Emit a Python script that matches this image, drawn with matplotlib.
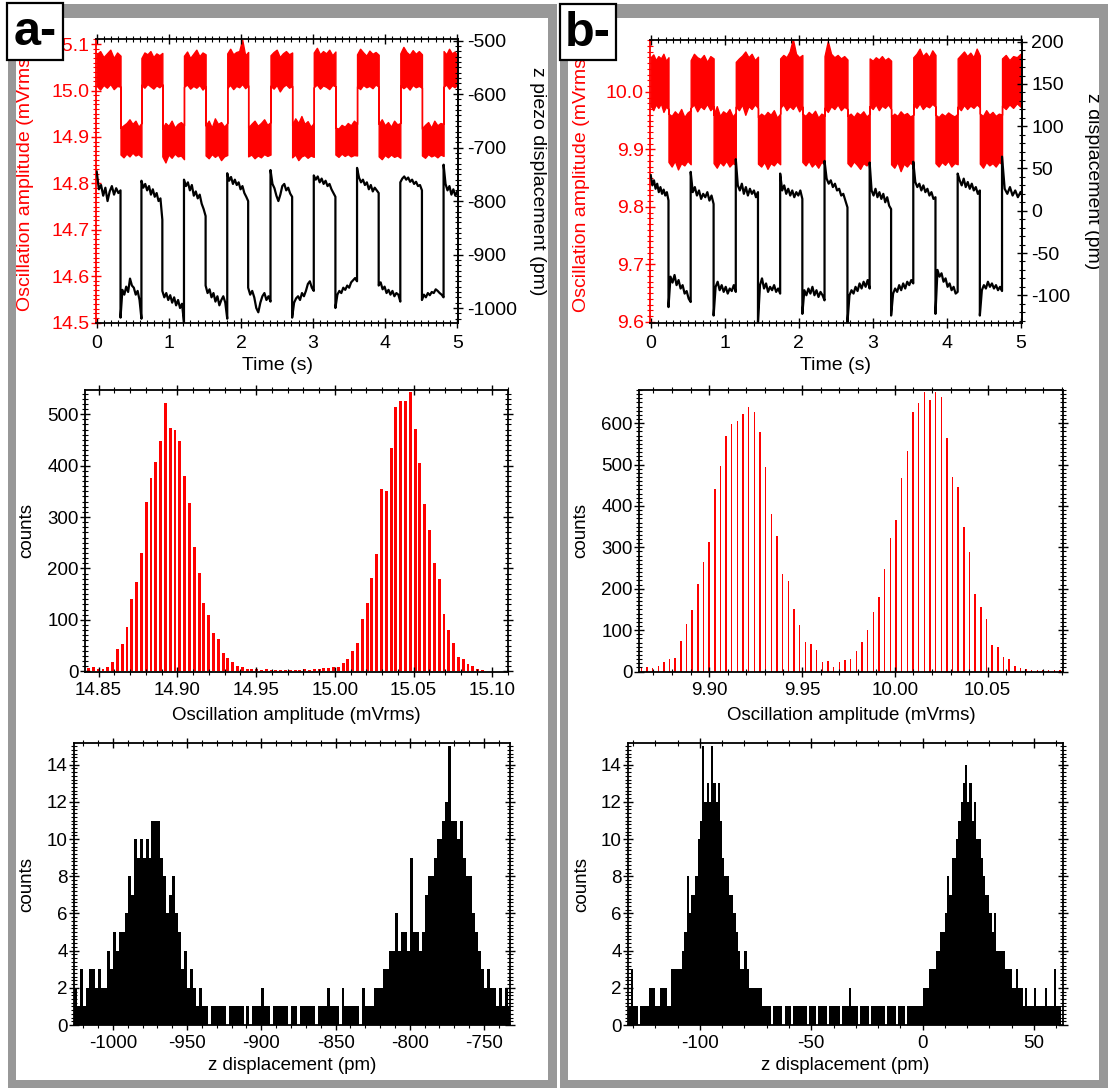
import numpy as np
import matplotlib.pyplot as plt
from matplotlib.patches import Rectangle
from matplotlib.ticker import MultipleLocator

plt.rcParams['font.family'] = ['Liberation Sans', 'DejaVu Sans']
plt.rcParams['axes.unicode_minus'] = False

W, H = 1108, 1088

# ---------------- panel a, time trace ----------------
# switching times (s); segments alternate high / low, first one high
edges_a = [0, 0.33, 0.62, 0.91, 1.21, 1.51, 1.81, 2.10, 2.41, 2.71, 3.01,
           3.31, 3.61, 3.91, 4.21, 4.51, 4.81, 5.0]
# upper / lower envelope of the red amplitude band (mVrms), per segment
red_top_a = [
    [15.078, 15.085, 15.072, 15.080, 15.088, 15.070, 15.082, 15.075],
    [14.920, 14.925, 14.930, 14.938, 14.928, 14.935, 14.922, 14.930],
    [15.070, 15.082, 15.078, 15.085, 15.072, 15.080, 15.076, 15.081],
    [14.918, 14.930, 14.924, 14.935, 14.920, 14.928, 14.932, 14.925],
    [15.075, 15.084, 15.070, 15.079, 15.088, 15.074, 15.082, 15.078],
    [14.925, 14.935, 14.920, 14.940, 14.928, 14.932, 14.922, 14.930],
    [15.080, 15.090, 15.078, 15.083, 15.085, 15.110, 15.076, 15.083],
    [14.920, 14.928, 14.935, 14.924, 14.930, 14.938, 14.926, 14.932],
    [15.076, 15.083, 15.088, 15.072, 15.080, 15.085, 15.078, 15.082],
    [14.925, 14.940, 14.930, 14.945, 14.928, 14.934, 14.922, 14.930],
    [15.082, 15.092, 15.078, 15.085, 15.080, 15.088, 15.076, 15.084],
    [14.920, 14.918, 14.926, 14.922, 14.930, 14.925, 14.935, 14.928],
    [15.078, 15.090, 15.082, 15.075, 15.086, 15.079, 15.083, 15.077],
    [14.928, 14.938, 14.925, 14.932, 14.922, 14.935, 14.927, 14.930],
    [15.080, 15.094, 15.083, 15.077, 15.087, 15.079, 15.085, 15.078],
    [14.918, 14.926, 14.932, 14.920, 14.935, 14.925, 14.930, 14.928],
    [15.085, 15.078, 15.090, 15.080, 15.084, 15.076],
]
red_bot_a = [
    [15.010, 15.002, 15.012, 15.006, 15.014, 15.003, 15.010, 15.008],
    [14.862, 14.856, 14.864, 14.858, 14.866, 14.860, 14.863, 14.857],
    [15.012, 15.006, 15.014, 15.009, 15.004, 15.011, 15.007, 15.013],
    [14.858, 14.845, 14.862, 14.855, 14.864, 14.858, 14.860, 14.852],
    [15.008, 15.013, 15.004, 15.010, 15.006, 15.012, 15.002, 15.009],
    [14.860, 14.854, 14.863, 14.857, 14.862, 14.850, 14.858, 14.861],
    [15.006, 15.012, 15.003, 15.010, 15.007, 15.014, 15.005, 15.011],
    [14.858, 14.862, 14.854, 14.860, 14.856, 14.863, 14.859, 14.862],
    [15.010, 15.004, 15.012, 14.998, 15.008, 15.013, 15.006, 15.010],
    [14.856, 14.862, 14.850, 14.858, 14.861, 14.855, 14.860, 14.857],
    [15.007, 15.013, 15.004, 15.011, 15.008, 15.003, 15.012, 15.009],
    [14.862, 14.857, 14.864, 14.859, 14.863, 14.858, 14.861, 14.860],
    [15.009, 15.003, 15.012, 15.007, 15.010, 15.005, 15.013, 15.008],
    [14.858, 14.852, 14.861, 14.856, 14.862, 14.857, 14.860, 14.855],
    [15.011, 15.005, 15.010, 15.002, 15.012, 15.007, 15.010, 15.006],
    [14.860, 14.855, 14.863, 14.858, 14.861, 14.856, 14.862, 14.859],
    [15.008, 15.013, 15.004, 15.011, 15.007, 15.012],
]
# z piezo displacement (pm), per segment
z_a = [
    [-745, -778, -770, -790, -775, -800, -782, -772, -788, -776, -785, -780],
    [-1018, -966, -975, -960, -970, -945, -958, -962, -975, -968, -985, -1020],
    [-762, -775, -768, -780, -772, -788, -778, -792, -785, -800, -795, -835],
    [-968, -980, -972, -985, -976, -990, -980, -995, -985, -1000, -992, -1027],
    [-760, -772, -765, -780, -770, -790, -782, -795, -788, -805, -815, -828],
    [-958, -972, -965, -980, -972, -988, -978, -995, -985, -978, -990, -1020],
    [-748, -762, -755, -768, -760, -770, -765, -778, -772, -785, -792, -800],
    [-962, -975, -968, -980, -1000, -1008, -990, -978, -972, -985, -978, -988],
    [-742, -768, -776, -790, -800, -788, -772, -768, -780, -775, -786, -792],
    [-1018, -990, -982, -978, -985, -972, -978, -968, -955, -950, -962, -968],
    [-752, -760, -754, -765, -758, -768, -762, -772, -768, -778, -785, -792],
    [-1000, -975, -968, -972, -962, -966, -958, -962, -952, -948, -944, -950],
    [-738, -756, -765, -760, -770, -765, -778, -770, -782, -775, -780, -785],
    [-958, -952, -965, -960, -972, -966, -975, -968, -978, -972, -975, -988],
    [-765, -758, -754, -760, -756, -764, -760, -768, -764, -772, -770, -780],
    [-985, -975, -980, -972, -976, -970, -972, -965, -968, -972, -975, -980],
    [-732, -768, -780, -772, -788, -778, -790, -782],
]

# ---------------- panel b, time trace ----------------
edges_b = [0, 0.24, 0.54, 0.85, 1.15, 1.45, 1.75, 2.05, 2.35, 2.66, 2.96,
           3.25, 3.55, 3.85, 4.15, 4.45, 4.75, 5.0]
red_top_b = [
    [10.060, 10.065, 10.055, 10.062, 10.058, 10.066, 10.054, 10.060],
    [9.962, 9.958, 9.966, 9.960, 9.970, 9.956, 9.964, 9.968],
    [10.055, 10.066, 10.060, 10.057, 10.064, 10.052, 10.062, 10.058],
    [9.960, 9.975, 9.958, 9.966, 9.962, 9.970, 9.957, 9.964],
    [10.052, 10.058, 10.063, 10.070, 10.060, 10.066, 10.055, 10.061],
    [9.956, 9.962, 9.958, 9.965, 9.960, 9.968, 9.955, 9.962],
    [10.058, 10.064, 10.060, 10.070, 10.092, 10.066, 10.060, 10.064],
    [9.962, 9.958, 9.965, 9.960, 9.967, 9.955, 9.962, 9.959],
    [10.062, 10.088, 10.066, 10.060, 10.064, 10.058, 10.062, 10.056],
    [9.958, 9.962, 9.956, 9.964, 9.960, 9.966, 9.957, 9.962],
    [10.058, 10.054, 10.060, 10.056, 10.062, 10.055, 10.059, 10.054],
    [9.956, 9.962, 9.958, 9.966, 9.960, 9.963, 9.957, 9.960],
    [10.060, 10.066, 10.075, 10.062, 10.068, 10.060, 10.072, 10.064],
    [9.960, 9.956, 9.962, 9.958, 9.964, 9.960, 9.957, 9.962],
    [10.058, 10.064, 10.070, 10.062, 10.068, 10.060, 10.075, 10.063],
    [9.962, 9.958, 9.968, 9.960, 9.965, 9.958, 9.962, 9.960],
    [10.058, 10.064, 10.055, 10.062, 10.060, 10.066],
]
red_bot_b = [
    [9.975, 9.968, 9.978, 9.972, 9.980, 9.965, 9.974, 9.970],
    [9.878, 9.870, 9.880, 9.865, 9.876, 9.872, 9.880, 9.874],
    [9.972, 9.978, 9.966, 9.975, 9.970, 9.979, 9.968, 9.974],
    [9.876, 9.868, 9.878, 9.872, 9.880, 9.870, 9.876, 9.873],
    [9.974, 9.968, 9.978, 9.960, 9.975, 9.970, 9.978, 9.972],
    [9.875, 9.870, 9.878, 9.866, 9.876, 9.872, 9.879, 9.874],
    [9.972, 9.978, 9.968, 9.975, 9.970, 9.978, 9.966, 9.974],
    [9.878, 9.872, 9.880, 9.870, 9.876, 9.868, 9.878, 9.874],
    [9.972, 9.965, 9.975, 9.970, 9.978, 9.968, 9.974, 9.970],
    [9.876, 9.870, 9.879, 9.873, 9.866, 9.876, 9.872, 9.878],
    [9.975, 9.970, 9.978, 9.968, 9.976, 9.972, 9.978, 9.970],
    [9.874, 9.868, 9.878, 9.862, 9.875, 9.870, 9.877, 9.872],
    [9.978, 9.972, 9.980, 9.970, 9.976, 9.973, 9.979, 9.974],
    [9.876, 9.870, 9.878, 9.873, 9.880, 9.870, 9.876, 9.874],
    [9.974, 9.968, 9.977, 9.970, 9.976, 9.972, 9.978, 9.973],
    [9.875, 9.868, 9.878, 9.872, 9.876, 9.870, 9.878, 9.874],
    [9.976, 9.970, 9.978, 9.972, 9.980, 9.974],
]
z_b = [
    [42, 30, 36, 26, 32, 22, 28, 20, 25, 18, 22, 12],
    [-114, -78, -85, -76, -88, -82, -92, -88, -98, -95, -104, -108],
    [46, 22, 28, 18, 24, 14, 20, 16, 22, 12, 18, 8],
    [-124, -90, -84, -94, -88, -96, -90, -98, -92, -95, -88, -96],
    [61, 30, 24, 32, 20, 28, 18, 26, 20, 24, 16, 22],
    [-132, -88, -80, -92, -86, -96, -90, -94, -88, -96, -92, -98],
    [44, 24, 30, 20, 26, 18, 24, 16, 22, 18, 24, 14],
    [-122, -94, -100, -92, -98, -90, -100, -94, -102, -96, -100, -106],
    [59, 38, 32, 36, 28, 32, 24, 26, 18, 20, 12, 4],
    [-132, -100, -94, -98, -90, -95, -86, -92, -84, -90, -82, -92],
    [57, 24, 18, 26, 16, 22, 14, 20, 10, 16, 6, 2],
    [-124, -98, -92, -96, -88, -94, -86, -92, -84, -88, -82, -86],
    [58, 34, 28, 32, 24, 30, 22, 26, 18, 22, 14, 16],
    [-122, -70, -78, -74, -84, -80, -90, -86, -94, -90, -98, -96],
    [44, 36, 30, 38, 28, 34, 26, 32, 24, 28, 20, 24],
    [-124, -94, -88, -92, -84, -90, -86, -92, -88, -94, -90, -95],
    [64, 26, 20, 28, 18, 24, 16, 22],
]

# ---------------- amplitude histograms ----------------
amp_start_a, amp_step = 14.8437, 0.003049
amp_counts_a = [6, 8, 5, 5, 9, 18, 44, 53, 86, 140, 173, 230, 329, 375, 407,
                447, 521, 473, 469, 448, 379, 328, 242, 192, 132, 110, 75, 62,
                36, 25, 18, 10, 9, 5, 4, 4, 3, 4, 3, 3, 3, 2, 3, 3, 3, 4, 3,
                5, 4, 6, 6, 8, 9, 16, 24, 40, 55, 101, 132, 181, 229, 354,
                351, 434, 514, 525, 525, 544, 472, 406, 325, 275, 210, 179,
                111, 81, 55, 27, 23, 14, 10, 5, 2, 1, 1, 1, 1, 1]
amp_start_b = 9.8634
amp_counts_b = [8, 12, 8, 14, 22, 30, 34, 74, 114, 148, 212, 265, 313, 441,
                496, 569, 597, 604, 622, 638, 626, 578, 493, 381, 328, 235,
                218, 151, 112, 71, 67, 51, 24, 26, 12, 23, 27, 31, 50, 71,
                101, 143, 180, 248, 323, 365, 467, 532, 626, 649, 676, 656,
                676, 662, 565, 470, 446, 350, 288, 188, 157, 128, 63, 59, 35,
                31, 13, 8, 7, 4, 3, 3, 4, 4, 3]

# ---------------- z histograms ----------------
z_edge0_a, z_bin_a = -1026, 2
z_counts_a = [2, 1, 3, 1, 2, 3, 3, 2, 3, 2, 2, 4, 3,
              5, 4, 5, 5, 6,
              8, 7, 10, 9, 10,
              9, 10, 9, 11, 11,
              11, 9, 8, 6, 7,
              8, 6, 5, 3, 4,
              2, 3, 2, 1, 2,
              1, 1, 0, 1, 1,
              1, 1, 1, 0, 1,
              1, 1, 1, 1, 0,
              1, 0, 1, 1, 1,
              2, 1, 1, 0, 1,
              1, 1, 1, 1, 0,
              1, 1, 0, 1, 1,
              1, 1, 1, 0, 1,
              1, 1, 2, 1, 1,
              1, 0, 2, 1, 1,
              1, 1, 1, 0, 2,
              1, 1, 1, 2, 2,
              2, 3, 3, 4, 4,
              6, 4, 5, 5, 4,
              9, 5, 5, 4, 5,
              7, 8, 8, 9, 10,
              10, 11, 12, 15, 11,
              11, 10, 11, 9, 8,
              8, 6, 5, 4, 3,
              2, 3, 2, 2, 1,
              2, 1, 2, 1]
z_edge0_b, z_bin_b = -133, 1
z_counts_b = [1, 1, 3,
              1, 1, 0, 1, 1, 1, 1, 2, 2, 2,
              1, 1, 2, 2, 2, 1, 1, 3, 3, 3,
              3, 3, 4, 5, 8, 6, 7, 7, 8, 10,
              11, 15, 12, 13, 12, 15, 13, 12, 13, 11,
              9, 8, 8, 7, 7, 6, 5, 4, 3, 3,
              4, 3, 2, 2, 2, 2, 2, 2, 1, 1,
              1, 1, 0, 1, 1, 1, 1, 0, 1, 1,
              1, 0, 1, 1, 1, 1, 1, 1, 0, 1,
              1, 1, 0, 1, 1, 1, 1, 0, 1, 1,
              1, 1, 1, 0, 1, 1, 1, 2, 1, 1,
              1, 0, 1, 1, 1, 1, 0, 1, 1, 1,
              1, 1, 1, 0, 1, 1, 1, 1, 0, 1,
              1, 1, 0, 1, 1, 1, 1, 1, 1, 1,
              2, 2, 2, 3, 3, 3, 4, 4, 5, 5,
              6, 8, 7, 9, 9, 10, 11, 12, 13, 14,
              12, 13, 11, 12, 10, 10, 9, 8, 7, 7,
              6, 5, 6, 4, 4, 4, 4, 3, 3, 3,
              2, 2, 3, 2, 2, 1, 2, 1, 1, 1,
              2, 1, 1, 1, 1, 2, 1, 1, 1, 3,
              1, 1]

RED = '#ff0000'
GRAY = '#989898'

fig = plt.figure(figsize=(W / 100, H / 100), dpi=100)


def add_ax(x0, y0, x1, y1):
    return fig.add_axes([x0 / W, 1 - y1 / H, (x1 - x0) / W, (y1 - y0) / H])


def to_axes(ax, px, py):
    b = ax.get_position()
    return (px / W - b.x0) / b.width, ((1 - py / H) - b.y0) / b.height


def join(edges, segs):
    xs = [np.linspace(edges[k], edges[k + 1], len(v)) for k, v in enumerate(segs)]
    return np.concatenate(xs), np.concatenate([np.asarray(v, float) for v in segs])


def ticks(ax, axis, major, minor, **kw):
    a = ax.xaxis if axis == 'x' else ax.yaxis
    a.set_major_locator(MultipleLocator(major))
    a.set_minor_locator(MultipleLocator(minor))
    ax.tick_params(axis=axis, which='major', direction='inout', length=7, width=1.0, **kw)
    ax.tick_params(axis=axis, which='minor', direction='inout', length=4.5, width=0.8, **kw)


def time_panel(box, edges, rtop, rbot, z, xlim, ylim, y2lim, y2step, y2minor,
               y2label, lab_left_x, lab_right_x):
    ax = add_ax(*box)
    ax2 = ax.twinx()
    t, top = join(edges, rtop)
    _, bot = join(edges, rbot)
    ax.fill_between(t, bot, top, color=RED, lw=1.0)
    tz, zz = join(edges, z)
    ax2.plot(tz, zz, color='k', lw=1.6)
    ax.set_xlim(*xlim)
    ax.set_ylim(*ylim)
    ax2.set_ylim(*y2lim)
    for s in ax.spines.values():
        s.set_linewidth(1.3)
    ax.spines['left'].set_color(RED)
    for s in ['left', 'top', 'bottom']:
        ax2.spines[s].set_visible(False)
    ax2.spines['right'].set_linewidth(1.3)
    ticks(ax, 'x', 1, 0.1, top=True, bottom=True, labelsize=14, pad=5)
    ticks(ax, 'y', 0.1, 0.01, left=True, right=False, colors=RED, labelsize=14, pad=1)
    ticks(ax2, 'y', y2step, y2minor, right=True, left=False, labelsize=14, pad=3)
    ax.yaxis.set_major_formatter(plt.FormatStrFormatter('%.1f'))
    ax.set_xlabel('Time (s)', fontsize=14, va='center')
    ax.xaxis.set_label_coords(*to_axes(ax, (box[0] + box[2]) / 2, 366))
    ax.set_ylabel('Oscillation amplitude (mVrms)', fontsize=14, color=RED,
                  va='center', ha='center')
    ax.yaxis.set_label_coords(*to_axes(ax, lab_left_x, (box[1] + box[3]) / 2))
    ax2.set_ylabel(y2label, fontsize=14, rotation=-90, va='center', ha='center')
    ax2.yaxis.set_label_coords(*to_axes(ax2, lab_right_x, (box[1] + box[3]) / 2))
    return ax


def frame(ax, lw=1.3):
    for s in ax.spines.values():
        s.set_linewidth(lw)


# ---- top row
time_panel((96, 39, 458, 323), edges_a, red_top_a, red_bot_a, z_a,
           (-0.01, 5.01), (14.499, 15.111), (-1028, -497), 100, 10,
           'z piezo displacement (pm)', 26, 537)
time_panel((650, 40, 1022, 323), edges_b, red_top_b, red_bot_b, z_b,
           (-0.01, 5.02), (9.598, 10.09), (-132.8, 202), 50, 10,
           'z displacement (pm)', 581, 1092)

# ---- amplitude histograms
for box, start, counts, xlim, ylim, xmaj, ymaj, wfrac, fmt, labx in [
        ((85, 390, 508, 672), amp_start_a, amp_counts_a, (14.8414, 15.110),
         (-1.4, 547), 0.05, 100, 0.6, '%.2f', 27),
        ((639, 390, 1063, 672), amp_start_b, amp_counts_b, (9.8622, 10.0906),
         (-1.0, 680), 0.05, 100, 0.25, '%.2f', 581)]:
    ax = add_ax(*box)
    centers = start + amp_step * np.arange(len(counts))
    ax.bar(centers, counts, width=amp_step * wfrac, color=RED, linewidth=0)
    ax.set_xlim(*xlim)
    ax.set_ylim(*ylim)
    frame(ax)
    ticks(ax, 'x', xmaj, 0.01, top=True, bottom=True, labelsize=13.5, pad=4)
    ticks(ax, 'y', ymaj, 10, left=True, right=True, labelsize=13.5, pad=1)
    ax.xaxis.set_major_formatter(plt.FormatStrFormatter(fmt))
    ax.set_xlabel('Oscillation amplitude (mVrms)', fontsize=13.5, va='center')
    ax.xaxis.set_label_coords(*to_axes(ax, (box[0] + box[2]) / 2, 716))
    ax.set_ylabel('counts', fontsize=13.5, va='center', ha='center')
    ax.yaxis.set_label_coords(*to_axes(ax, labx, (box[1] + box[3]) / 2))

# ---- z displacement histograms
for box, e0, bw, counts, xlim, labx in [
        ((74, 743, 510, 1025), z_edge0_a, z_bin_a, z_counts_a, (-1026.2, -732.5), 27),
        ((628, 743, 1063, 1025), z_edge0_b, z_bin_b, z_counts_b, (-132.3, 63.0), 582)]:
    ax = add_ax(*box)
    edges = e0 + bw * np.arange(len(counts) + 1)
    ax.stairs(counts, edges, fill=True, color='k', lw=0)
    ax.set_xlim(*xlim)
    ax.set_ylim(0, 15.17)
    frame(ax)
    ticks(ax, 'x', 50, 10, top=True, bottom=True, labelsize=13.5, pad=4)
    ticks(ax, 'y', 2, 0.2, left=True, right=True, labelsize=13.5, pad=1)
    ax.set_xlabel('z displacement (pm)', fontsize=13.5, va='center')
    ax.xaxis.set_label_coords(*to_axes(ax, (box[0] + box[2]) / 2, 1066))
    ax.set_ylabel('counts', fontsize=13.5, va='center', ha='center')
    ax.yaxis.set_label_coords(*to_axes(ax, labx, (box[1] + box[3]) / 2))

# ---- grey frames and panel letters
def band(x0, y0, x1, y1, **kw):
    fig.add_artist(Rectangle((x0 / W, 1 - y1 / H), (x1 - x0) / W, (y1 - y0) / H,
                             transform=fig.transFigure, **kw))


for (l, r) in [(8, 557), (560, 1108)]:
    band(l, 4, r, 18, facecolor=GRAY, lw=0, zorder=5)
    band(l, 1080, r, 1088, facecolor=GRAY, lw=0, zorder=5)
    band(l, 4, l + 8, 1088, facecolor=GRAY, lw=0, zorder=5)
    band(r - 9, 4, r, 1088, facecolor=GRAY, lw=0, zorder=5)

for (x0, y0, x1, y1, txt) in [(7, 3, 63, 60, 'a-'), (560, 4, 616, 60, 'b-')]:
    band(x0, y0, x1, y1, facecolor='white', edgecolor='black', lw=1.6, zorder=10)
    fig.text((x0 + x1) / 2 / W, 1 - ((y0 + y1) / 2 + 1) / H, txt, fontsize=35,
             fontweight='bold', ha='center', va='center', zorder=11)

fig.savefig('out.png', dpi=100)
